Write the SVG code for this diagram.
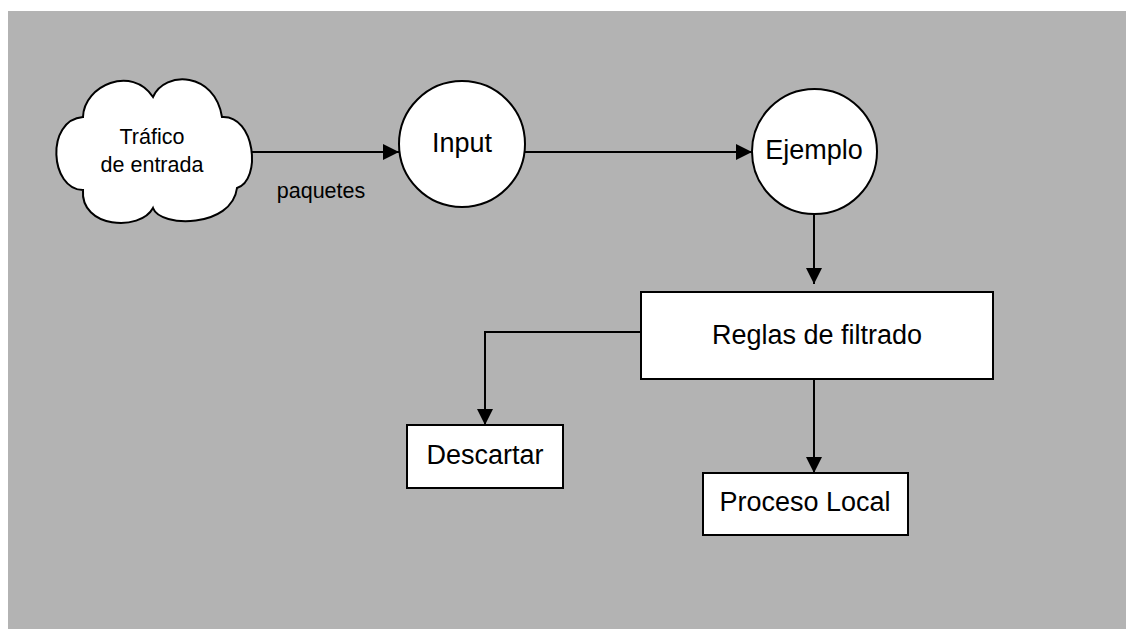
<svg xmlns="http://www.w3.org/2000/svg" width="1126" height="629" viewBox="0 0 1126 629">
<style>
.shape{fill:#fff;stroke:#000;stroke-width:2}
.conn{fill:none;stroke:#000;stroke-width:2}
.lbl{font-family:"Liberation Sans",Arial,sans-serif;font-size:27px;fill:#000;text-anchor:middle}
.sm{font-family:"Liberation Sans",Arial,sans-serif;font-size:21.5px;fill:#000;text-anchor:middle}
</style>
<defs>
<marker id="arr" markerUnits="userSpaceOnUse" markerWidth="16" markerHeight="16" viewBox="0 0 16 16" refX="16" refY="8" orient="auto">
<path d="M0,0 L16,8 L0,16 Z" fill="#000"/>
</marker>
</defs>
<rect x="8" y="11" width="1118" height="618" fill="#B3B3B3"/>
<g id="connectors">
<line class="conn" x1="252" y1="152" x2="399" y2="152" marker-end="url(#arr)"/>
<line class="conn" x1="525" y1="152" x2="752" y2="152" marker-end="url(#arr)"/>
<line class="conn" x1="814" y1="214" x2="814" y2="284" marker-end="url(#arr)"/>
<polyline class="conn" points="641,332 485,332 485,425" marker-end="url(#arr)"/>
<line class="conn" x1="814" y1="379" x2="814" y2="473" marker-end="url(#arr)"/>
<text class="sm" x="321" y="198">paquetes</text>
</g>
<g id="trafico">
<path class="shape" d="M83,117 C84,85 132,65 153,97 C165,70 215,72 222,117 C255,115 262,180 237,188 C232,228 160,228 153,208 C140,232 80,228 83,190 C50,190 45,120 83,117 Z"/>
<text class="sm" x="152" y="144">Tráfico</text>
<text class="sm" x="152" y="172">de entrada</text>
</g>
<g id="input">
<circle class="shape" cx="462" cy="144" r="63"/>
<text class="lbl" x="462" y="152">Input</text>
</g>
<g id="ejemplo">
<circle class="shape" cx="814.5" cy="151.5" r="62.5"/>
<text class="lbl" x="814" y="159">Ejemplo</text>
</g>
<g id="reglas">
<rect class="shape" x="641" y="292" width="352" height="87"/>
<text class="lbl" x="817" y="344">Reglas de filtrado</text>
</g>
<g id="descartar">
<rect class="shape" x="407" y="425" width="156" height="63"/>
<text class="lbl" x="485" y="464">Descartar</text>
</g>
<g id="proceso">
<rect class="shape" x="703" y="473" width="205" height="62"/>
<text class="lbl" x="805" y="511">Proceso Local</text>
</g>
</svg>
